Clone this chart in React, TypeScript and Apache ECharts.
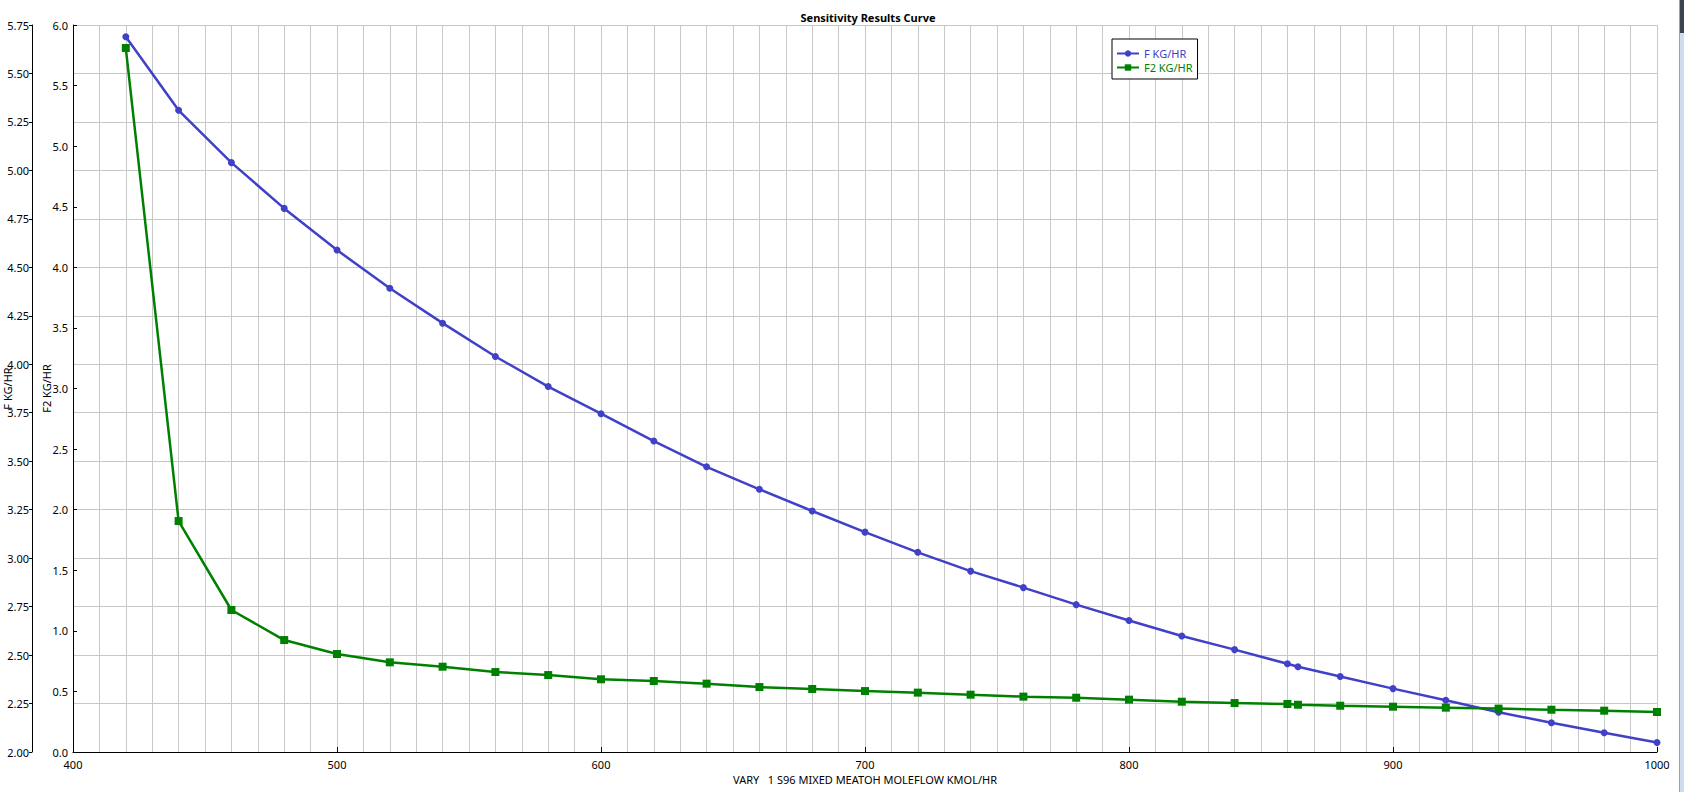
import React, { useEffect, useRef } from "react";
import * as echarts from "echarts";

const xValues = [420, 440, 460, 480, 500, 520, 540, 560, 580, 600, 620, 640, 660, 680, 700, 720, 740, 760, 780, 800, 820, 840, 860, 864, 880, 900, 920, 940, 960, 980, 1000];
const fValues = [5.689, 5.31, 5.04, 4.804, 4.589, 4.392, 4.212, 4.04, 3.885, 3.745, 3.604, 3.471, 3.355, 3.243, 3.134, 3.03, 2.933, 2.848, 2.76, 2.678, 2.598, 2.528, 2.455, 2.44, 2.389, 2.327, 2.267, 2.205, 2.151, 2.099, 2.049];
const f2Values = [5.81, 1.906, 1.172, 0.924, 0.809, 0.74, 0.704, 0.66, 0.635, 0.6, 0.586, 0.564, 0.536, 0.52, 0.503, 0.49, 0.473, 0.457, 0.448, 0.432, 0.415, 0.404, 0.396, 0.39, 0.382, 0.374, 0.366, 0.358, 0.349, 0.341, 0.33];

const seriesNames = ["F KG/HR", "F2 KG/HR"];
const titleText = "Sensitivity Results Curve";
const xAxisName = "VARY   1 S96 MIXED MEATOH MOLEFLOW KMOL/HR";
const xRange = [400, 1000, 100];
const fRange = [2, 5.75, 0.25];
const f2Range = [0, 6, 0.5];

const FONT = '"Segoe UI", "Noto Sans", "Open Sans", sans-serif';
const BLUE = "#4040c8";
const GREEN = "#008000";
const GRID = "#c8c8c8";

export default function App() {
  const ref = useRef<HTMLDivElement>(null);
  useEffect(() => {
    if (!ref.current) return;
    const chart = echarts.init(ref.current, undefined, { renderer: "svg" });
    chart.setOption({
      animation: false,
      backgroundColor: "#ffffff",
      textStyle: { fontFamily: FONT },
      title: {
        text: titleText,
        left: 863,
        top: 7,
        textAlign: "center",
        textStyle: { fontSize: 11, fontWeight: "bold", color: "#000", fontFamily: FONT },
      },
      grid: { left: 73, right: 27, top: 25, bottom: 40, containLabel: false, outerBoundsMode: "none" },
      legend: {
        orient: "vertical",
        left: 1112,
        top: 39,
        data: [
          { name: seriesNames[0], textStyle: { color: BLUE } },
          { name: seriesNames[1], textStyle: { color: GREEN } },
        ],
        backgroundColor: "#fff",
        borderColor: "#000",
        borderWidth: 1,
        borderRadius: 0,
        padding: [9, 5, 6, 4],
        itemWidth: 22,
        itemHeight: 8,
        itemGap: 3,
        textStyle: { fontSize: 11, fontFamily: FONT },
      },
      xAxis: {
        type: "value",
        min: xRange[0],
        max: xRange[1],
        interval: xRange[2],
        name: xAxisName,
        nameLocation: "middle",
        nameGap: 22,
        nameMoveOverlap: false,
        nameTextStyle: { fontSize: 11, color: "#000", fontFamily: FONT },
        axisLine: { show: true, onZero: false, lineStyle: { color: "#000", width: 1 } },
        axisTick: { show: true, inside: true, length: 5, lineStyle: { color: "#000" } },
        axisLabel: { fontSize: 11, color: "#000", margin: 7, fontFamily: FONT, formatter: (v: number) => String(v) },
        splitLine: { show: true, lineStyle: { color: GRID, width: 1 } },
        minorTick: { show: false, splitNumber: 10 },
        minorSplitLine: { show: true, lineStyle: { color: GRID, width: 1 } },
      },
      yAxis: [
        {
          type: "value",
          position: "left",
          offset: 41,
          min: fRange[0],
          max: fRange[1],
          interval: fRange[2],
          name: seriesNames[0],
          nameLocation: "middle",
          nameGap: 19,
          nameMoveOverlap: false,
          nameTextStyle: { fontSize: 11, color: "#000", fontFamily: FONT },
          axisLine: { show: true, onZero: false, lineStyle: { color: "#000", width: 1 } },
          axisTick: { show: true, inside: false, length: 3, lineStyle: { color: "#000" } },
          axisLabel: { fontSize: 11, color: "#000", margin: 3, fontFamily: FONT, formatter: (v: number) => v.toFixed(2) },
          splitLine: { show: true, lineStyle: { color: GRID, width: 1 } },
        },
        {
          type: "value",
          position: "left",
          offset: 0,
          min: f2Range[0],
          max: f2Range[1],
          interval: f2Range[2],
          name: seriesNames[1],
          nameLocation: "middle",
          nameGap: 21,
          nameMoveOverlap: false,
          nameTextStyle: { fontSize: 11, color: "#000", fontFamily: FONT },
          axisLine: { show: true, onZero: false, lineStyle: { color: "#000", width: 1 } },
          axisTick: { show: true, inside: true, length: 4, lineStyle: { color: "#000" } },
          axisLabel: { fontSize: 11, color: "#000", margin: 5, fontFamily: FONT, formatter: (v: number) => v.toFixed(1) },
          splitLine: { show: false },
        },
      ],
      graphic: [
        { type: "rect", shape: { x: 1679, y: 0, width: 1, height: 792 }, style: { fill: "#a0a0a0" } },
        { type: "rect", shape: { x: 1680, y: 0, width: 4, height: 792 }, style: { fill: "#cfdcee" } },
        { type: "rect", shape: { x: 1680, y: 0, width: 4, height: 33 }, style: { fill: "#3c4450" } },
      ],
      series: [
        {
          type: "line",
          name: seriesNames[0],
          yAxisIndex: 0,
          data: xValues.map((x, i) => [x, fValues[i]]),
          symbol: "circle",
          symbolSize: 7,
          lineStyle: { color: BLUE, width: 2.5 },
          itemStyle: { color: BLUE },
        },
        {
          type: "line",
          name: seriesNames[1],
          yAxisIndex: 1,
          data: xValues.map((x, i) => [x, f2Values[i]]),
          symbol: "rect",
          symbolSize: 8,
          lineStyle: { color: GREEN, width: 2.5 },
          itemStyle: { color: GREEN },
        },
      ],
    });
    return () => chart.dispose();
  }, []);
  return <div ref={ref} style={{ position: "fixed", left: 0, top: 0, width: 1684, height: 792 }} />;
}
